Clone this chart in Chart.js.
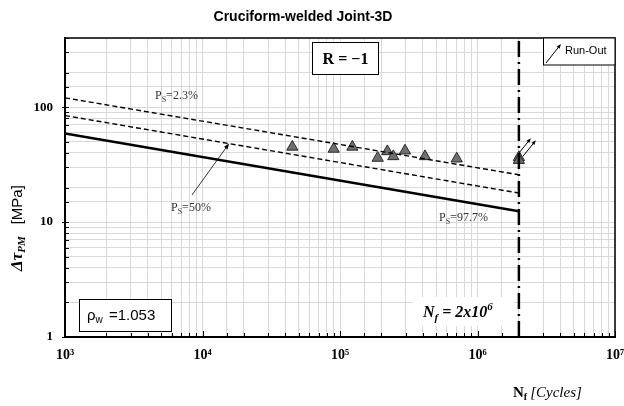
<!DOCTYPE html>
<html>
<head>
<meta charset="utf-8">
<script src="https://cdn.jsdelivr.net/npm/chart.js@4.4.1/dist/chart.umd.min.js"></script>
<style>
  html, body { margin: 0; padding: 0; background: #fff; }
  #wrap { width: 624px; height: 406px; }
</style>
</head>
<body>
<div id="wrap"><canvas id="c" width="624" height="406"></canvas></div>
<script>
// S-N design curves: end points in cycles and MPa
const curveN = [1e3, 2e6];
const ps23 = [120.6, 25.8];
const ps50 = [84.5, 17.9];
const ps977 = [59, 12.4];

// Fatigue test results
const testN = [45000, 90000, 123000, 188000, 221000, 244000, 297000, 415000, 706000];
const testStress = [45.1, 43.3, 45.1, 36.1, 41.2, 37.3, 41.8, 37.3, 35.6];

// Run-outs at the knee point
const runoutN = [2e6, 2e6];
const runoutStress = [36.6, 34.6];

// Knee-point vertical line
const kneeN = [2e6, 2e6];
const kneeStress = [1, 400];

// Axis tick labels
const xTickLabels = { 1000: '10³', 10000: '10⁴', 100000: '10⁵', 1000000: '10⁶', 10000000: '10⁷' };
const yTickLabels = { 1: '1', 10: '10', 100: '100' };

const pts = (xs, ys) => xs.map((x, i) => ({ x, y: ys[i] }));

const SERIF = '"Liberation Serif", "DejaVu Serif", serif';
const SANS = '"Liberation Sans", "DejaVu Sans", sans-serif';

function richText(ctx, parts, x, y, align) {
  let total = 0;
  parts.forEach(p => { ctx.font = p.font; total += ctx.measureText(p.t).width + (p.gap || 0); });
  let cx = align === 'center' ? x - total / 2 : (align === 'right' ? x - total : x);
  ctx.textAlign = 'left';
  ctx.textBaseline = 'alphabetic';
  parts.forEach(p => {
    ctx.font = p.font;
    ctx.fillStyle = p.color || '#000';
    ctx.fillText(p.t, cx, y + (p.dy || 0));
    cx += ctx.measureText(p.t).width + (p.gap || 0);
  });
}

function arrow(ctx, x1, y1, x2, y2, head, width) {
  const a = Math.atan2(y2 - y1, x2 - x1);
  ctx.beginPath();
  ctx.moveTo(x1, y1);
  ctx.lineTo(x2 - Math.cos(a) * head * 0.6, y2 - Math.sin(a) * head * 0.6);
  ctx.lineWidth = width;
  ctx.strokeStyle = '#000';
  ctx.stroke();
  ctx.beginPath();
  ctx.moveTo(x2, y2);
  ctx.lineTo(x2 - head * Math.cos(a - 0.38), y2 - head * Math.sin(a - 0.38));
  ctx.lineTo(x2 - head * Math.cos(a + 0.38), y2 - head * Math.sin(a + 0.38));
  ctx.closePath();
  ctx.fillStyle = '#000';
  ctx.fill();
}

const decorations = {
  id: 'decorations',
  beforeDatasetsDraw(chart) {
    const ctx = chart.ctx;
    // white panel behind the knee-point label
    ctx.save();
    ctx.fillStyle = '#fff';
    ctx.fillRect(413, 297, 101, 29);
    ctx.restore();
  },
  afterDraw(chart) {
    const ctx = chart.ctx;
    const a = chart.chartArea;
    const xs = chart.scales.x, ys = chart.scales.y;
    ctx.save();

    // inner tick marks
    ctx.strokeStyle = '#000';
    ctx.lineWidth = 1;
    xs.ticks.forEach(t => {
      const px = Math.round(xs.getPixelForValue(t.value)) + 0.5;
      const major = xTickLabels[t.value] !== undefined;
      ctx.beginPath();
      ctx.moveTo(px, a.bottom);
      ctx.lineTo(px, a.bottom - (major ? 6 : 4));
      ctx.stroke();
    });
    ys.ticks.forEach(t => {
      const py = Math.round(ys.getPixelForValue(t.value)) + 0.5;
      const major = yTickLabels[t.value] !== undefined;
      ctx.beginPath();
      ctx.moveTo(a.left - (major ? 3 : 0), py);
      ctx.lineTo(a.left + 4, py);
      ctx.stroke();
    });

    // top and right frame
    ctx.lineWidth = 1.5;
    ctx.beginPath();
    ctx.moveTo(a.left, a.top);
    ctx.lineTo(a.right, a.top);
    ctx.lineTo(a.right, a.bottom);
    ctx.stroke();

    // title
    ctx.fillStyle = '#000';
    ctx.font = 'bold 14px ' + SANS;
    ctx.textAlign = 'center';
    ctx.textBaseline = 'middle';
    ctx.fillText('Cruciform-welded Joint-3D', 303, 17);

    // R = -1 box
    ctx.fillStyle = '#fff';
    ctx.fillRect(312, 42.5, 66, 32);
    ctx.lineWidth = 1;
    ctx.strokeStyle = '#000';
    ctx.strokeRect(312.5, 42.5, 66, 32);
    ctx.fillStyle = '#000';
    ctx.font = 'bold 16px ' + SERIF;
    ctx.textAlign = 'center';
    ctx.textBaseline = 'middle';
    ctx.fillText('R = \u22121', 345.5, 59.5);

    // Run-Out legend box
    ctx.fillStyle = '#fff';
    ctx.fillRect(543, a.top, a.right - 543, 27);
    ctx.strokeRect(543.5, a.top, a.right - 543.5, 27);
    arrow(ctx, 546, 63, 561, 44, 5, 1);
    ctx.fillStyle = '#000';
    ctx.font = '11px ' + SANS;
    ctx.textAlign = 'left';
    ctx.textBaseline = 'middle';
    ctx.fillText('Run-Out', 565, 50.5);

    // rho_w box
    ctx.fillStyle = '#fff';
    ctx.fillRect(79.5, 299.5, 92, 32);
    ctx.strokeRect(79.5, 299.5, 92, 32);
    richText(ctx, [
      { t: '\u03c1', font: '15px ' + SANS },
      { t: 'w', font: '10px ' + SANS, dy: 3, gap: 2 },
      { t: ' =1.053', font: '15px ' + SANS }
    ], 87, 320, 'left');

    // probability labels
    const grey = '#333';
    richText(ctx, [
      { t: 'P', font: '12px ' + SERIF, color: grey },
      { t: 'S', font: '8px ' + SERIF, color: grey, dy: 3 },
      { t: '=2.3%', font: '12px ' + SERIF, color: grey }
    ], 155, 99, 'left');
    richText(ctx, [
      { t: 'P', font: '12px ' + SERIF, color: grey },
      { t: 'S', font: '8px ' + SERIF, color: grey, dy: 3 },
      { t: '=50%', font: '12px ' + SERIF, color: grey }
    ], 171, 211, 'left');
    richText(ctx, [
      { t: 'P', font: '12px ' + SERIF, color: grey },
      { t: 'S', font: '8px ' + SERIF, color: grey, dy: 3 },
      { t: '=97.7%', font: '12px ' + SERIF, color: grey }
    ], 439, 221, 'left');

    // pointer to the 50% curve
    const tipN = 15600;
    const slope50 = Math.log10(ps50[1] / ps50[0]) / Math.log10(curveN[1] / curveN[0]);
    const tipX = xs.getPixelForValue(tipN);
    const tipY = ys.getPixelForValue(ps50[0] * Math.pow(tipN / curveN[0], slope50));
    arrow(ctx, 192, 195, tipX, tipY, 6, 0.8);

    // run-out arrows
    const rx = xs.getPixelForValue(runoutN[0]);
    const ry = ys.getPixelForValue(runoutStress[0]);
    arrow(ctx, rx - 1, ry - 3, rx + 12, ry - 19, 5, 1);
    arrow(ctx, rx + 4, ry - 1, rx + 17, ry - 17, 5, 1);

    // knee-point label
    richText(ctx, [
      { t: 'N', font: 'bold italic 16px ' + SERIF },
      { t: 'f', font: 'bold italic 11px ' + SERIF, dy: 4 },
      { t: ' = 2x10', font: 'bold italic 16px ' + SERIF },
      { t: '6', font: 'bold italic 11px ' + SERIF, dy: -7 }
    ], 423, 317, 'left');

    // y-axis title
    ctx.save();
    ctx.translate(22, 271);
    ctx.rotate(-Math.PI / 2);
    richText(ctx, [
      { t: '\u0394\u03c4', font: 'bold italic 17px ' + SERIF },
      { t: 'PM', font: 'bold italic 11px ' + SERIF, dy: 3, gap: 12 },
      { t: '[MPa]', font: '15px ' + SANS }
    ], 0, 0, 'left');
    ctx.restore();

    // x-axis title
    richText(ctx, [
      { t: 'N', font: 'bold 15px ' + SERIF },
      { t: 'f', font: 'bold 10px ' + SERIF, dy: 3, gap: 3 },
      { t: '[Cycles]', font: 'italic 15px ' + SERIF }
    ], 513, 397, 'left');

    ctx.restore();
  }
};

const triFill = '#6f6f6f';
const triEdge = '#2a2a2a';

new Chart(document.getElementById('c'), {
  type: 'scatter',
  data: {
    datasets: [
      { type: 'line', data: pts(kneeN, kneeStress), borderColor: '#000', borderWidth: 2.5,
        borderDash: [16, 5, 2, 5], pointRadius: 0, fill: false },
      { type: 'line', data: pts(curveN, ps23), borderColor: '#000', borderWidth: 1.4,
        borderDash: [5, 3], pointRadius: 0, fill: false },
      { type: 'line', data: pts(curveN, ps50), borderColor: '#000', borderWidth: 1.4,
        borderDash: [5, 3], pointRadius: 0, fill: false },
      { type: 'line', data: pts(curveN, ps977), borderColor: '#000', borderWidth: 2.5,
        pointRadius: 0, fill: false },
      { data: pts(testN, testStress), pointStyle: 'triangle', pointRadius: 6.5,
        backgroundColor: triFill, borderColor: triEdge, borderWidth: 1 },
      { data: pts(runoutN, runoutStress), pointStyle: 'triangle', pointRadius: 6.5,
        backgroundColor: triFill, borderColor: triEdge, borderWidth: 1 }
    ]
  },
  options: {
    responsive: false,
    animation: false,
    devicePixelRatio: 1,
    layout: { padding: { top: 38, right: 9, left: 0, bottom: 0 } },
    plugins: { legend: { display: false }, title: { display: false }, tooltip: { enabled: false } },
    scales: {
      x: {
        type: 'logarithmic', min: 1e3, max: 1e7,
        afterFit: s => { s.height = 69; s.paddingLeft = 0; s.paddingRight = 0; },
        grid: { color: '#d9d9d9', lineWidth: 1, drawTicks: false },
        border: { color: '#000', width: 2 },
        ticks: {
          autoSkip: false, maxRotation: 0, padding: 10, color: '#000',
          font: { family: SERIF, weight: 'bold', size: 14 },
          callback: v => xTickLabels[v] || ''
        }
      },
      y: {
        type: 'logarithmic', min: 1, max: 400,
        afterFit: s => { s.width = 65; s.paddingTop = 0; s.paddingBottom = 0; },
        grid: { color: '#d9d9d9', lineWidth: 1, drawTicks: false },
        border: { color: '#000', width: 2 },
        ticks: {
          autoSkip: false, padding: 12, color: '#000',
          font: { family: SERIF, weight: 'bold', size: 13 },
          callback: v => yTickLabels[v] || ''
        }
      }
    }
  },
  plugins: [decorations]
});
</script>
</body>
</html>
